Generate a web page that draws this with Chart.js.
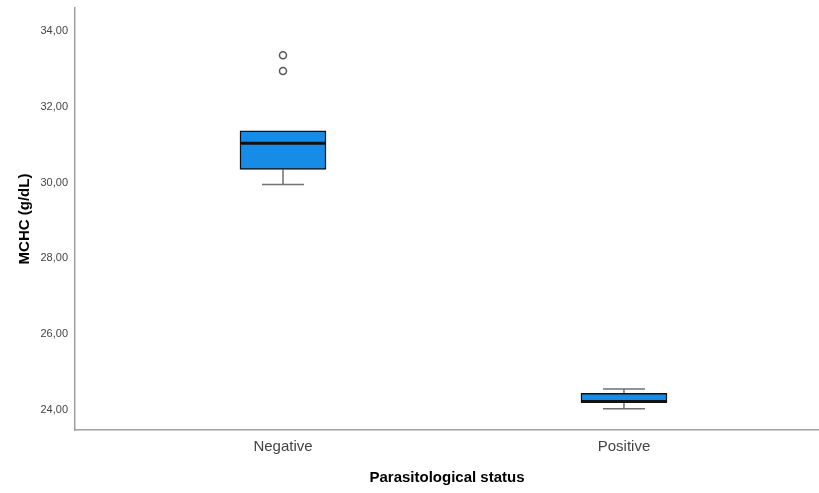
<!DOCTYPE html>
<html>
<head>
<meta charset="utf-8">
<script src="https://cdn.jsdelivr.net/npm/chart.js@4/dist/chart.umd.min.js"></script>
<style>
html,body{margin:0;padding:0;background:#fff;}
#wrap{width:819px;height:493px;}
</style>
</head>
<body>
<div id="wrap"><canvas id="c" width="819" height="493"></canvas></div>
<script>
const categories = ['Negative', 'Positive'];
const whiskerLow = [29.95, 24.03];
const q1 = [30.35, 24.21];
const median = [31.04, 24.22];
const q3 = [31.37, 24.44];
const whiskerHigh = [31.37, 24.55];
const outliers = [[33.36, 32.95], []];
const yTicks = [24, 26, 28, 30, 32, 34];

const boxData = categories.map((c, i) => ({x: i, y: [q1[i], q3[i]]}));
const outlierData = [];
outliers.forEach((arr, i) => arr.forEach(v => outlierData.push({x: i, y: v})));

const boxPlugin = {
  id: 'boxWhiskers',
  beforeDatasetsDraw(chart) {
    const {ctx, scales: {x, y}} = chart;
    ctx.save();
    ctx.strokeStyle = '#707070';
    ctx.lineWidth = 1.5;
    categories.forEach((c, i) => {
      const cx = x.getPixelForValue(i);
      const cap = 21;
      ctx.beginPath();
      ctx.moveTo(cx, y.getPixelForValue(whiskerLow[i]));
      ctx.lineTo(cx, y.getPixelForValue(q1[i]));
      ctx.moveTo(cx, y.getPixelForValue(whiskerHigh[i]));
      ctx.lineTo(cx, y.getPixelForValue(q3[i]));
      ctx.moveTo(cx - cap, y.getPixelForValue(whiskerLow[i]));
      ctx.lineTo(cx + cap, y.getPixelForValue(whiskerLow[i]));
      if (whiskerHigh[i] > q3[i]) {
        ctx.moveTo(cx - cap, y.getPixelForValue(whiskerHigh[i]));
        ctx.lineTo(cx + cap, y.getPixelForValue(whiskerHigh[i]));
      }
      ctx.stroke();
    });
    ctx.restore();
  },
  afterDatasetsDraw(chart) {
    const {ctx, scales: {x, y}} = chart;
    const meta = chart.getDatasetMeta(0);
    ctx.save();
    ctx.strokeStyle = '#111';
    ctx.lineWidth = 3;
    categories.forEach((c, i) => {
      const bar = meta.data[i];
      const half = bar.width / 2;
      const cx = x.getPixelForValue(i);
      const my = y.getPixelForValue(median[i]);
      ctx.beginPath();
      ctx.moveTo(cx - half, my);
      ctx.lineTo(cx + half, my);
      ctx.stroke();
    });
    ctx.restore();
  }
};

new Chart(document.getElementById('c'), {
  type: 'bar',
  data: {
    datasets: [
      {
        type: 'bar',
        data: boxData,
        backgroundColor: '#178ce6',
        borderColor: '#111',
        borderWidth: 1.5,
        borderSkipped: false,
        barThickness: 86,
        order: 2
      },
      {
        type: 'scatter',
        data: outlierData,
        pointStyle: 'circle',
        pointRadius: 3.5,
        pointBackgroundColor: '#fff',
        pointBorderColor: '#555',
        pointBorderWidth: 1.5,
        order: 1
      }
    ]
  },
  plugins: [boxPlugin],
  options: {
    responsive: false,
    animation: false,
    layout: {autoPadding: false, padding: {top: 8, right: 0, left: 0, bottom: 0}},
    plugins: {legend: {display: false}, tooltip: {enabled: false}},
    scales: {
      x: {
        type: 'linear',
        offset: false,
        min: -0.61,
        max: 1.572,
        afterBuildTicks(scale) { scale.ticks = categories.map((c, i) => ({value: i})); },
        afterFit(scale) { scale.height = 63; scale.paddingLeft = 0; scale.paddingRight = 0; },
        grid: {display: false, drawTicks: false, offset: false},
        border: {display: true, color: '#a0a0a0', width: 1.5},
        ticks: {
          padding: 8,
          color: '#444',
          font: {family: 'Liberation Sans, Arial, sans-serif', size: 15},
          callback: (v) => categories[v]
        },
        title: {
          display: true,
          text: 'Parasitological status',
          color: '#000',
          font: {family: 'Liberation Sans, Arial, sans-serif', size: 15, weight: 'bold'},
          padding: {top: 0, bottom: 6}
        }
      },
      y: {
        type: 'linear',
        min: 23.47,
        max: 34.61,
        afterBuildTicks(scale) { scale.ticks = yTicks.map(v => ({value: v})); },
        afterFit(scale) { scale.width = 75; scale.paddingTop = 0; scale.paddingBottom = 0; },
        grid: {display: false, drawTicks: false},
        border: {display: true, color: '#a0a0a0', width: 1.5},
        ticks: {
          padding: 7,
          color: '#444',
          font: {family: 'Liberation Sans, Arial, sans-serif', size: 11},
          callback: (v) => v.toFixed(2).replace('.', ',')
        },
        title: {
          display: true,
          text: 'MCHC (g/dL)',
          color: '#000',
          font: {family: 'Liberation Sans, Arial, sans-serif', size: 15, weight: 'bold'},
          padding: {top: 16, bottom: 0}
        }
      }
    }
  }
});
</script>
</body>
</html>
